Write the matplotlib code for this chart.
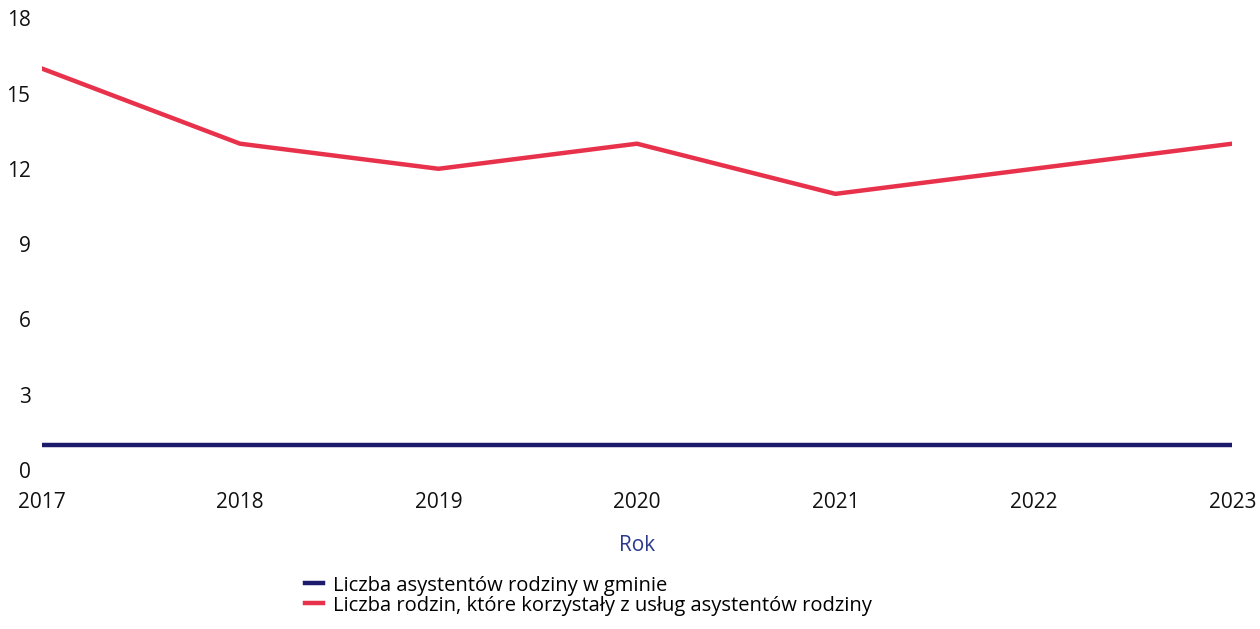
import matplotlib.pyplot as plt

plt.rcParams['font.family'] = ['Open Sans', 'DejaVu Sans']

# ── dane ─────────────────────────────────────────────────────────────────────
lata = [2017, 2018, 2019, 2020, 2021, 2022, 2023]
asystenci = [1, 1, 1, 1, 1, 1, 1]
rodziny = [16, 13, 12, 13, 11, 12, 13]
y_ticks = [0, 3, 6, 9, 12, 15, 18]

KOLOR_NAVY = '#1c1a6b'
KOLOR_RED = '#e8314a'

fig = plt.figure(figsize=(12.6, 6.29), dpi=100)
ax = fig.add_axes([0.033, 0.253, 0.945, 0.718])

l1, = ax.plot(lata, asystenci, color=KOLOR_NAVY, lw=3.2,
              label='Liczba asystentów rodziny w gminie')
l2, = ax.plot(lata, rodziny, color=KOLOR_RED, lw=3.2,
              label='Liczba rodzin, które korzystały z usług asystentów rodziny')

ax.set_xlim(lata[0], lata[-1])
ax.set_ylim(0, 18)
ax.set_yticks(y_ticks)
ax.set_xticks(lata)
ax.tick_params(axis='both', length=0, labelsize=15, labelcolor='#111111')
ax.tick_params(axis='x', pad=16)
ax.tick_params(axis='y', pad=8)
ax.axhline(0, color='#dddddd', lw=0.8, ls=(0, (4, 8)))
for s in ax.spines.values():
    s.set_visible(False)

ax.set_xlabel('Rok', fontsize=15, color='#2b3a8c', labelpad=16)

fig.legend(handles=[l1, l2], loc='upper left', bbox_to_anchor=(0.242, 0.085),
           frameon=False, fontsize=14.5, handlelength=0.9, handletextpad=0.5,
           labelspacing=0.0, borderpad=0, borderaxespad=0)

plt.savefig('out.png', dpi=100)
